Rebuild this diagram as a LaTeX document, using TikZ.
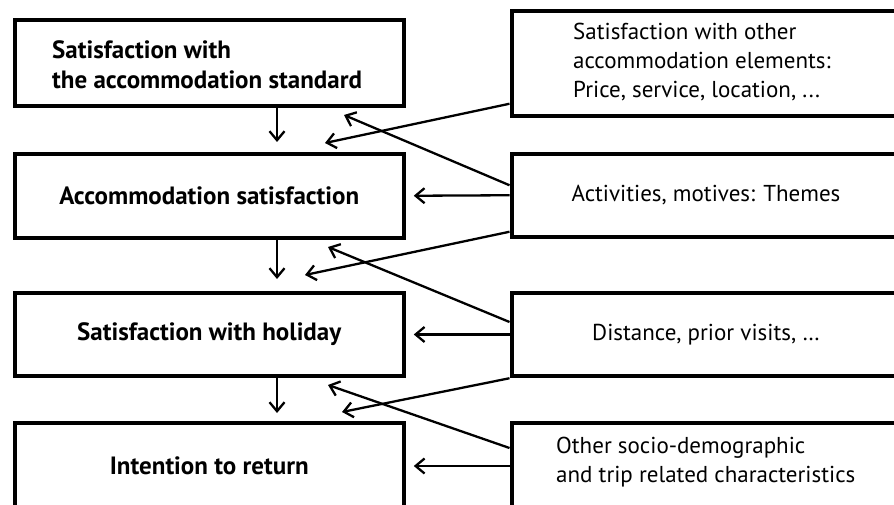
\documentclass[tikz,border=0pt]{standalone}
\usepackage{fontspec}
\setmainfont{PT Sans}
\usetikzlibrary{arrows.meta}
\begin{document}
\begin{tikzpicture}[x=1pt,y=-1pt,
  box/.style={draw, line width=4pt, minimum width=389pt, inner sep=0pt},
  lt/.style={font=\fontsize{25}{30}\selectfont\bfseries, align=left, inner sep=0pt},
  rt/.style={font=\fontsize{23}{29}\selectfont, align=left, inner sep=0pt},
  arr/.style={line width=2.3pt, -{Straight Barb[length=9pt,width=15pt,line width=2.3pt]}}]
\useasboundingbox (0,0) rectangle (894,505);
\clip (0,0) rectangle (894,505);
% left column
\node[box, minimum height=86pt] (l1) at (209.25,62.75) {};
\node[lt, anchor=west] (l1t) at (52,65) {Satisfaction with\\the accommodation standard};
\node[box, minimum height=84pt, lt] (l2) at (209.25,195.75) {Accommodation satisfaction};
\node[box, minimum height=83.5pt, lt] (l3) at (209.25,334.5) {Satisfaction with holiday};
\node[box, minimum height=87pt, lt] (l4) at (209.25,466) {Intention to return};
% right column
\node[box, minimum height=105pt] (r1) at (706,63.25) {};
\node[rt, anchor=west] (r1t) at (573,62) {Satisfaction with other\\accommodation elements:\\Price, service, location, ...};
\node[box, minimum height=83pt, rt] (r2) at (706,195.25) {Activities, motives: Themes};
\node[box, minimum height=83.5pt, rt] (r3) at (706,334.5) {Distance, prior visits, …};
\node[box, minimum height=87pt] (r4) at (706,466) {};
\node[rt, anchor=west] (r4t) at (556,462.5) {Other socio-demographic\\and trip related characteristics};
% arrow tips
\coordinate (v1) at (277,142);
\coordinate (v2) at (277,279);
\coordinate (v3) at (277,413);
\coordinate (t1) at (325,143);
\coordinate (t2) at (344,115);
\coordinate (t3) at (305,275);
\coordinate (t4) at (328,247);
\coordinate (t5) at (342,412);
\coordinate (t6) at (328,385);
% vertical arrows
\draw[arr] (l1.south -| v1) -- (v1);
\draw[arr] (l2.south -| v2) -- (v2);
\draw[arr] (l3.south -| v3) -- (v3);
% diagonal arrows
\draw[arr] ([yshift=14pt]r1.south west) -- (t1);
\draw[arr] ([yshift=10pt]r2.west) -- (t2);
\draw[arr] ([yshift=7pt]r2.south west) -- (t3);
\draw[arr] ([yshift=12.5pt]r3.west) -- (t4);
\draw[arr] (r3.south west) -- (t5);
\draw[arr] ([yshift=-27.5pt]r4.north west) -- (t6);
% horizontal arrows
\draw[arr] (r2.west) -- ([xshift=8pt]l2.east);
\draw[arr] (r3.west) -- ([xshift=8pt]l3.east);
\draw[arr] (r4.west) -- ([xshift=8pt]l4.east);
\end{tikzpicture}
\end{document}
